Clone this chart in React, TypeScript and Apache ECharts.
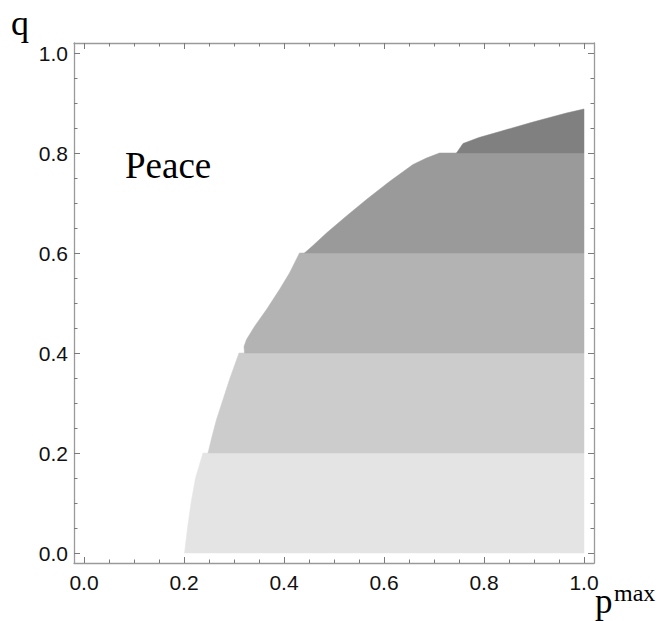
import React, { useEffect, useRef } from "react";
import * as echarts from "echarts";

// Axis ticks (p^max on x, q on y)
const majorTicks = [0, 0.2, 0.4, 0.6, 0.8, 1.0];
const minorTicks = [0.05, 0.1, 0.15, 0.25, 0.3, 0.35, 0.45, 0.5, 0.55, 0.65, 0.7, 0.75, 0.85, 0.9, 0.95];

// Region outlines, one per q-band: [p, q] vertices
const band0 = [[0.201, 0.0], [0.207, 0.05], [0.214, 0.1], [0.223, 0.15], [0.238, 0.2], [1.0, 0.2], [1.0, 0.0]];
const band1 = [[0.248, 0.2], [0.256, 0.233], [0.265, 0.267], [0.278, 0.307], [0.291, 0.347], [0.31, 0.4], [1.0, 0.4], [1.0, 0.2]];
const band2 = [[0.321, 0.4], [0.32, 0.413], [0.325, 0.427], [0.341, 0.453], [0.365, 0.487], [0.391, 0.527], [0.411, 0.56], [0.431, 0.6], [1.0, 0.6], [1.0, 0.4]];
const band3 = [[0.441, 0.6], [0.458, 0.615], [0.485, 0.64], [0.525, 0.674], [0.565, 0.707], [0.611, 0.743], [0.658, 0.777], [0.685, 0.79], [0.711, 0.8], [1.0, 0.8], [1.0, 0.6]];
const band4 = [[0.745, 0.8], [0.758, 0.819], [0.79, 0.831], [0.832, 0.843], [0.898, 0.862], [0.965, 0.88], [1.0, 0.888], [1.0, 0.8]];
const bands = [band0, band1, band2, band3, band4];

const regionLabel = "Peace";

const bandColors = ["#e4e4e4", "#cccccc", "#b3b3b3", "#9a9a9a", "#808080"];

export default function App() {
  const ref = useRef<HTMLDivElement>(null);
  useEffect(() => {
    if (!ref.current) return;
    const chart = echarts.init(ref.current, null, { renderer: "svg" });
    const frameColor = "#9a9a9a";
    const tickColor = "#7a7a7a";
    const labelFont = { fontFamily: "Liberation Sans", fontSize: 21, color: "#111" };
    const mkAxis = (pos: string, major: boolean, labels: boolean) => ({
      type: "value",
      min: -0.02,
      max: 1.02,
      position: pos,
      axisLine: { show: major, onZero: false, lineStyle: { color: frameColor, width: 1.3 } },
      splitLine: { show: false },
      axisTick: {
        show: true,
        inside: true,
        length: major ? 6 : 3.5,
        customValues: major ? majorTicks : minorTicks,
        lineStyle: { color: tickColor, width: 1 },
      },
      axisLabel: {
        show: labels,
        margin: pos === "bottom" ? 9 : 6,
        customValues: majorTicks,
        formatter: (v: number) => v.toFixed(1),
        ...labelFont,
      },
    });
    chart.setOption({
      animation: false,
      backgroundColor: "#ffffff",
      grid: { left: 74, top: 43, width: 520, height: 520, containLabel: false },
      xAxis: [
        mkAxis("bottom", true, true),
        mkAxis("bottom", false, false),
        mkAxis("top", true, false),
        mkAxis("top", false, false),
      ],
      yAxis: [
        mkAxis("left", true, true),
        mkAxis("left", false, false),
        mkAxis("right", true, false),
        mkAxis("right", false, false),
      ],
      series: [
        {
          type: "custom",
          coordinateSystem: "cartesian2d",
          xAxisIndex: 0,
          yAxisIndex: 0,
          data: bands.map((_, i) => [i]),
          encode: { x: [], y: [] },
          renderItem: (params: any, api: any) => {
            const idx = params.dataIndex;
            const pts = bands[idx].map((p) => api.coord(p));
            return {
              type: "polygon",
              shape: { points: pts },
              style: { fill: bandColors[idx], stroke: bandColors[idx], lineWidth: 0.5 },
            };
          },
        },
      ],
      graphic: [
        {
          type: "text",
          x: 11,
          y: 5,
          style: { text: "q", font: "36px 'Liberation Serif'", fill: "#000" },
        },
        {
          type: "text",
          x: 125,
          y: 147,
          style: { text: regionLabel, font: "37px 'Liberation Serif'", fill: "#000" },
        },
        {
          type: "text",
          x: 595,
          y: 584,
          style: { text: "p", font: "35px 'Liberation Serif'", fill: "#000" },
        },
        {
          type: "text",
          x: 614,
          y: 581,
          style: { text: "max", font: "24px 'Liberation Serif'", fill: "#000" },
        },
      ],
    });
    return () => chart.dispose();
  }, []);
  return (
    <div
      ref={ref}
      style={{ position: "fixed", left: 0, top: 0, width: 659, height: 621, background: "#fff" }}
    />
  );
}
